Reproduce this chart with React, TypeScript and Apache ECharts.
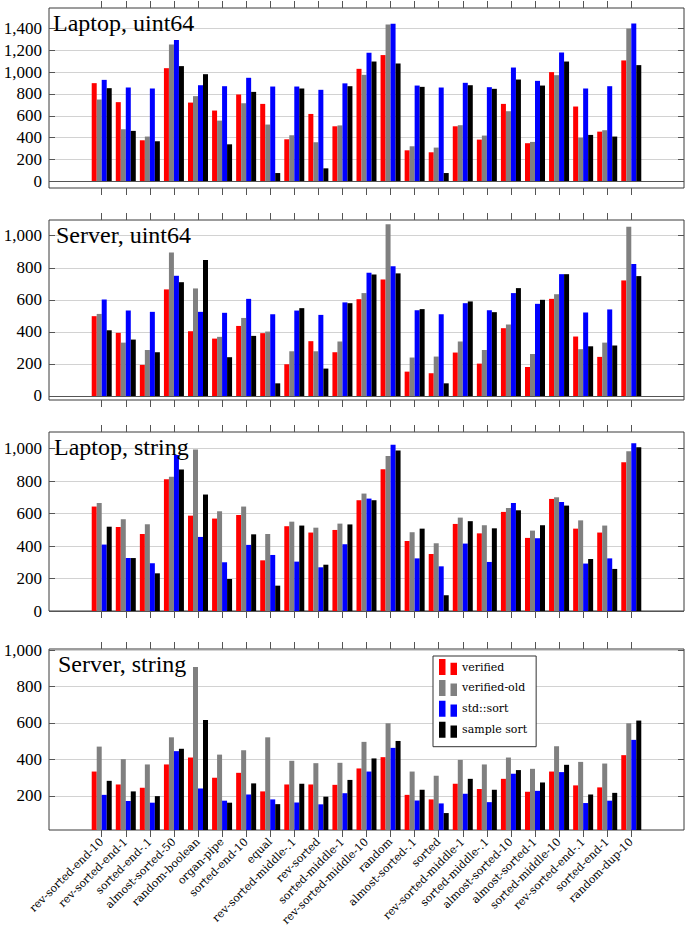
import React, { useEffect, useRef } from 'react';
import * as echarts from 'echarts';

const categories = [
  'rev-sorted-end-10', 'rev-sorted-end-1', 'sorted-end-.1', 'almost-sorted-50', 'random-boolean',
  'organ-pipe', 'sorted-end-10', 'equal', 'rev-sorted-middle-.1', 'rev-sorted', 'sorted-middle-1',
  'rev-sorted-middle-10', 'random', 'almost-sorted-.1', 'sorted', 'rev-sorted-middle-1',
  'sorted-middle-.1', 'almost-sorted-10', 'almost-sorted-1', 'sorted-middle-10', 'rev-sorted-end-.1',
  'sorted-end-1', 'random-dup-10',
];

const seriesNames = ['verified', 'verified-old', 'std::sort', 'sample sort'];
const seriesColors = ['#ff0000', '#808080', '#0000ff', '#000000'];

// Laptop, uint64
const laptopUint64Verified = [899, 725, 376, 1036, 721, 648, 795, 709, 385, 617, 504, 1030, 1156, 284, 266, 504, 382, 709, 349, 1000, 685, 455, 1107];
const laptopUint64VerifiedOld = [749, 477, 410, 1253, 780, 556, 715, 520, 422, 358, 512, 975, 1437, 321, 309, 514, 419, 642, 361, 972, 400, 468, 1400];
const laptopUint64StdSort = [929, 859, 850, 1293, 880, 871, 948, 868, 868, 838, 897, 1177, 1443, 877, 859, 902, 862, 1042, 920, 1180, 850, 871, 1446];
const laptopUint64SampleSort = [853, 462, 367, 1055, 981, 339, 819, 76, 850, 119, 871, 1097, 1079, 865, 76, 880, 847, 932, 877, 1097, 425, 410, 1064];

// Server, uint64
const serverUint64Verified = [498, 394, 194, 665, 404, 358, 437, 392, 198, 342, 273, 604, 727, 152, 142, 271, 202, 423, 181, 606, 371, 244, 721];
const serverUint64VerifiedOld = [512, 333, 287, 896, 671, 369, 487, 402, 279, 279, 340, 642, 1071, 240, 246, 340, 287, 446, 262, 635, 292, 333, 1056];
const serverUint64StdSort = [602, 533, 525, 750, 525, 519, 606, 510, 533, 506, 584, 769, 810, 535, 510, 579, 535, 642, 575, 760, 521, 540, 823];
const serverUint64SampleSort = [410, 352, 273, 710, 848, 242, 375, 79, 548, 171, 579, 758, 765, 542, 79, 590, 523, 673, 600, 760, 310, 315, 748];

// Laptop, string
const laptopStringVerified = [643, 517, 474, 811, 587, 569, 591, 312, 522, 483, 499, 682, 873, 431, 351, 536, 478, 610, 450, 690, 507, 483, 916];
const laptopStringVerifiedOld = [665, 565, 534, 827, 994, 614, 643, 474, 550, 513, 538, 723, 955, 485, 417, 575, 528, 634, 495, 700, 558, 526, 983];
const laptopStringStdSort = [409, 326, 294, 961, 456, 300, 407, 345, 304, 269, 411, 692, 1023, 324, 275, 415, 302, 665, 448, 671, 292, 324, 1033];
const laptopStringSampleSort = [519, 326, 232, 871, 717, 197, 472, 156, 526, 285, 533, 682, 988, 507, 97, 553, 509, 620, 528, 649, 320, 259, 1008];

// Server, string
const serverStringVerified = [333, 262, 244, 372, 410, 299, 326, 224, 262, 262, 260, 350, 412, 205, 180, 266, 237, 293, 222, 333, 257, 246, 423];
const serverStringVerifiedOld = [470, 401, 372, 521, 907, 426, 450, 521, 392, 379, 381, 496, 598, 333, 310, 397, 372, 410, 348, 472, 386, 377, 598];
const serverStringStdSort = [205, 171, 162, 445, 240, 173, 207, 180, 163, 153, 214, 333, 463, 174, 158, 211, 165, 321, 227, 330, 160, 173, 507];
const serverStringSampleSort = [282, 224, 198, 458, 616, 162, 268, 154, 266, 195, 287, 405, 501, 233, 105, 293, 233, 341, 273, 370, 207, 216, 613];

const ticks1400 = [0, 200, 400, 600, 800, 1000, 1200, 1400];
const ticks1000 = [0, 200, 400, 600, 800, 1000];
const ticks1000NoZero = [200, 400, 600, 800, 1000];

const panels = [
  { title: 'Laptop, uint64', titleX: 53, top: 8, height: 180, min: -61, max: 1587, ticks: ticks1400, zero: true,
    data: [laptopUint64Verified, laptopUint64VerifiedOld, laptopUint64StdSort, laptopUint64SampleSort] },
  { title: 'Server, uint64', titleX: 56, top: 220, height: 180, min: -25, max: 1098, ticks: ticks1000, zero: true,
    data: [serverUint64Verified, serverUint64VerifiedOld, serverUint64StdSort, serverUint64SampleSort] },
  { title: 'Laptop, string', titleX: 54, top: 432, height: 179, min: 0, max: 1102, ticks: ticks1000, zero: true,
    data: [laptopStringVerified, laptopStringVerifiedOld, laptopStringStdSort, laptopStringSampleSort] },
  { title: 'Server, string', titleX: 58, top: 649, height: 181, min: 12, max: 1006, ticks: ticks1000NoZero, zero: false,
    data: [serverStringVerified, serverStringVerifiedOld, serverStringStdSort, serverStringSampleSort] },
];

const catIdx = categories.map((_, i) => i);
const serif = 'Liberation Serif';
const smallSerif = 'DejaVu Serif';

function buildOption() {
  const grid: any[] = [];
  const xAxis: any[] = [];
  const yAxis: any[] = [];
  const series: any[] = [];
  const graphic: any[] = [];

  panels.forEach((p, i) => {
    grid.push({
      left: 49, right: 1, top: p.top, height: p.height,
      show: true, borderColor: '#3a3a3a', borderWidth: 1, backgroundColor: 'transparent',
      containLabel: false, outerBoundsMode: 'none',
    });
    const isLast = i === panels.length - 1;
    const xBase = {
      type: 'value', gridIndex: i, min: -2.19, max: 24.19,
      axisLine: { show: false, onZero: false },
      splitLine: { show: false },
      axisTick: { show: true, inside: false, length: 7, customValues: catIdx, lineStyle: { color: '#555', width: 1 } },
    };
    xAxis.push({
      ...xBase, position: 'bottom',
      axisLabel: isLast ? {
        show: true, customValues: catIdx, rotate: 45, margin: 10,
        formatter: (v: number) => categories[Math.round(v)] ?? '',
        fontFamily: smallSerif, fontSize: 11, color: '#000',
      } : { show: false },
    });
    xAxis.push({ ...xBase, position: 'top', axisLabel: { show: false } });

    yAxis.push({
      type: 'value', gridIndex: i, position: 'left', min: p.min, max: p.max,
      axisLine: { show: false, onZero: false },
      axisTick: { show: true, inside: true, length: 6, customValues: p.ticks, lineStyle: { color: '#555' } },
      axisLabel: {
        show: true, customValues: p.ticks, margin: 7,
        formatter: (v: number) => Number(v).toLocaleString('en-US'),
        fontFamily: serif, fontSize: 17, color: '#000',
      },
      splitLine: { show: true, lineStyle: { color: '#d2d2d2', width: 1 } },
    });
    yAxis.push({
      type: 'value', gridIndex: i, position: 'right', min: p.min, max: p.max,
      axisLine: { show: false, onZero: false },
      axisTick: { show: true, inside: true, length: 6, customValues: p.ticks, lineStyle: { color: '#555' } },
      axisLabel: { show: false },
      splitLine: { show: false },
    });

    p.data.forEach((vals, s) => {
      const ser: any = {
        type: 'bar', name: seriesNames[s], xAxisIndex: 2 * i, yAxisIndex: 2 * i,
        data: vals.map((v, k) => [k, v]),
        barWidth: 5, barGap: '0%',
        itemStyle: { color: seriesColors[s] },
        clip: true,
      };
      if (s === 0 && p.zero) {
        ser.markLine = {
          silent: true, symbol: 'none', label: { show: false },
          lineStyle: { color: '#555', width: 1.2, type: 'solid' },
          data: [{ yAxis: 0 }],
        };
      }
      series.push(ser);
    });

    graphic.push({
      type: 'text', left: p.titleX, top: p.top + 3,
      style: { text: p.title, font: `24px "${serif}"`, fill: '#000' },
      z: 10,
    });
  });

  return {
    animation: false,
    backgroundColor: '#fff',
    grid, xAxis, yAxis, series, graphic,
    legend: {
      show: true, orient: 'vertical', left: 433, top: 656,
      padding: [3, 9, 9, 6], itemGap: 4.9, itemWidth: 18, itemHeight: 16,
      icon: 'path://M0,0h6.5v16h-6.5zM11.5,3.7h6.5v12.3h-6.5z',
      borderColor: '#333', borderWidth: 1, backgroundColor: '#fff',
      textStyle: { fontFamily: smallSerif, fontSize: 11, color: '#000' },
      selectedMode: false,
      data: seriesNames,
    },
  };
}

export default function App() {
  const ref = useRef<HTMLDivElement>(null);
  useEffect(() => {
    if (!ref.current) return;
    const chart = echarts.init(ref.current, undefined, { renderer: 'svg' });
    chart.setOption(buildOption() as any);
    return () => chart.dispose();
  }, []);
  return <div ref={ref} style={{ position: 'absolute', left: 0, top: 0, width: 685, height: 929 }} />;
}
